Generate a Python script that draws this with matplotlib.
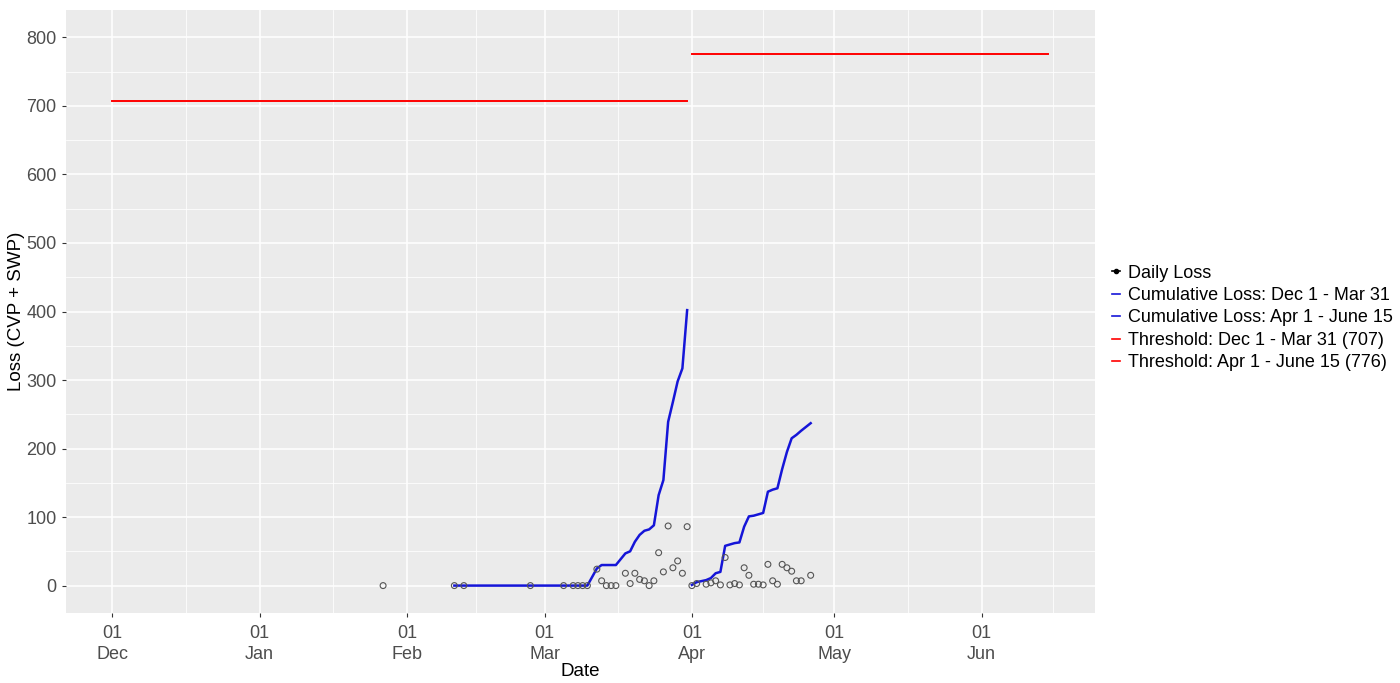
import numpy as np
import pandas as pd
import matplotlib
matplotlib.use("Agg")
import matplotlib.pyplot as plt
import matplotlib.dates as mdates
from matplotlib.lines import Line2D

plt.rcParams['font.family'] = ['Liberation Sans', 'DejaVu Sans']

# Daily loss (open circles)
daily_dates = ['2020-01-27', '2020-02-11', '2020-02-13', '2020-02-27', '2020-03-05', '2020-03-07',
               '2020-03-08', '2020-03-09', '2020-03-10', '2020-03-12', '2020-03-13', '2020-03-14',
               '2020-03-15', '2020-03-16', '2020-03-18', '2020-03-19', '2020-03-20', '2020-03-21',
               '2020-03-22', '2020-03-23', '2020-03-24', '2020-03-25', '2020-03-26', '2020-03-27',
               '2020-03-28', '2020-03-29', '2020-03-30', '2020-03-31',
               '2020-04-01', '2020-04-02', '2020-04-04', '2020-04-05', '2020-04-06', '2020-04-07',
               '2020-04-08', '2020-04-09', '2020-04-10', '2020-04-11', '2020-04-12', '2020-04-13',
               '2020-04-14', '2020-04-15', '2020-04-16', '2020-04-17', '2020-04-18', '2020-04-19',
               '2020-04-20', '2020-04-21', '2020-04-22', '2020-04-23', '2020-04-24', '2020-04-26']
daily_loss = [0, 0, 0, 0, 0, 0,
              0, 0, 0, 24, 7, 0,
              0, 0, 18, 3, 18, 9,
              7, 0, 7, 48, 20, 87,
              26, 36, 18, 86,
              0, 3, 2, 4, 7, 1,
              41, 1, 3, 1, 26, 15,
              2, 2, 1, 31, 7, 2,
              31, 26, 21, 7, 7, 15]

# Cumulative loss Dec 1 - Mar 31
cum1_dates = ['2020-02-11', '2020-02-13', '2020-02-27', '2020-03-05', '2020-03-07', '2020-03-08',
              '2020-03-09', '2020-03-10', '2020-03-12', '2020-03-13', '2020-03-14', '2020-03-15',
              '2020-03-16', '2020-03-18', '2020-03-19', '2020-03-20', '2020-03-21', '2020-03-22',
              '2020-03-23', '2020-03-24', '2020-03-25', '2020-03-26', '2020-03-27', '2020-03-28',
              '2020-03-29', '2020-03-30', '2020-03-31']
cum1_loss = [0, 0, 0, 0, 0, 0,
             0, 0, 25, 30, 30, 30,
             30, 47, 50, 64, 74, 80,
             82, 88, 132, 154, 239, 268,
             298, 317, 402]

# Cumulative loss Apr 1 - June 15
cum2_dates = ['2020-04-01', '2020-04-02', '2020-04-04', '2020-04-05', '2020-04-06', '2020-04-07',
              '2020-04-08', '2020-04-09', '2020-04-10', '2020-04-11', '2020-04-12', '2020-04-13',
              '2020-04-14', '2020-04-15', '2020-04-16', '2020-04-17', '2020-04-18', '2020-04-19',
              '2020-04-20', '2020-04-21', '2020-04-22', '2020-04-23', '2020-04-24', '2020-04-26']
cum2_loss = [1, 5, 8, 11, 18, 20,
             58, 60, 62, 63, 86, 101,
             102, 104, 106, 137, 140, 142,
             170, 195, 215, 220, 226, 237]

# Thresholds
thr1_dates = ['2019-12-01', '2020-03-31']
thr1_value = 707
thr2_dates = ['2020-04-01', '2020-06-15']
thr2_value = 776

legend_labels = ['Daily Loss', 'Cumulative Loss: Dec 1 - Mar 31', 'Cumulative Loss: Apr 1 - June 15',
                 'Threshold: Dec 1 - Mar 31 (707)', 'Threshold: Apr 1 - June 15 (776)']

d_daily = pd.to_datetime(daily_dates)
d_cum1 = pd.to_datetime(cum1_dates)
d_cum2 = pd.to_datetime(cum2_dates)
d_thr1 = pd.to_datetime(thr1_dates)
d_thr2 = pd.to_datetime(thr2_dates)

fig = plt.figure(figsize=(14, 6.83), dpi=100)
ax = fig.add_axes([65.5 / 1400, 1 - 613 / 683, (1095 - 65.5) / 1400, (613 - 10) / 683])
ax.set_facecolor('#EBEBEB')
for s in ax.spines.values():
    s.set_visible(False)

ax.plot(d_thr1, [thr1_value] * 2, color='#FF0000', lw=1.4, zorder=3)
ax.plot(d_thr2, [thr2_value] * 2, color='#FF0000', lw=1.4, zorder=3)
ax.plot(d_cum1, cum1_loss, color='#1515D8', lw=1.8, zorder=3)
ax.plot(d_cum2, cum2_loss, color='#1515D8', lw=1.8, zorder=3)
ax.scatter(d_daily, daily_loss, s=18, facecolors='none', edgecolors='#555555', linewidths=0.8, zorder=4)

# axis ranges with ggplot-like padding
x0 = mdates.date2num(pd.Timestamp('2019-12-01'))
x1 = mdates.date2num(pd.Timestamp('2020-06-15'))
pad = 0.05 * (x1 - x0)
ax.set_xlim(x0 - pad, x1 + pad)
ax.set_ylim(-40, 840)

major = pd.to_datetime(['2019-12-01', '2020-01-01', '2020-02-01', '2020-03-01',
                        '2020-04-01', '2020-05-01', '2020-06-01'])
major_num = mdates.date2num(major)
ext = np.append(major_num, mdates.date2num(pd.Timestamp('2020-07-01')))
minor_num = (ext[:-1] + ext[1:]) / 2
ax.set_xticks(major_num)
ax.set_xticklabels(['01\n' + d.strftime('%b') for d in major], linespacing=1.25)
ax.set_xticks(minor_num, minor=True)
ax.set_yticks(np.arange(0, 801, 100))
ax.set_yticks(np.arange(50, 801, 100), minor=True)

ax.grid(which='major', color='white', lw=1.1)
ax.grid(which='minor', color='white', lw=0.55)
ax.set_axisbelow(True)
ax.tick_params(which='major', length=3, width=0.8, color='#333333', labelsize=13,
               labelcolor='#4D4D4D')
ax.tick_params(axis='x', which='major', pad=6)
ax.tick_params(which='minor', length=0)

ax.set_xlabel('Date', fontsize=13.5, labelpad=0)
ax.set_ylabel('Loss (CVP + SWP)', fontsize=13.5, labelpad=1)

handles = [Line2D([0], [0], color='black', marker='o', markersize=3, lw=1.2),
           Line2D([0], [0], color='#1515D8', lw=1.2),
           Line2D([0], [0], color='#1515D8', lw=1.2),
           Line2D([0], [0], color='#FF0000', lw=1.2),
           Line2D([0], [0], color='#FF0000', lw=1.2)]
fig.legend(handles, legend_labels, loc='center left', bbox_to_anchor=(1105 / 1400, 1 - 318 / 683),
           frameon=False, fontsize=13, handlelength=0.45, handletextpad=0.45, labelspacing=0.3,
           borderaxespad=0)

fig.savefig('out.png', dpi=100)
